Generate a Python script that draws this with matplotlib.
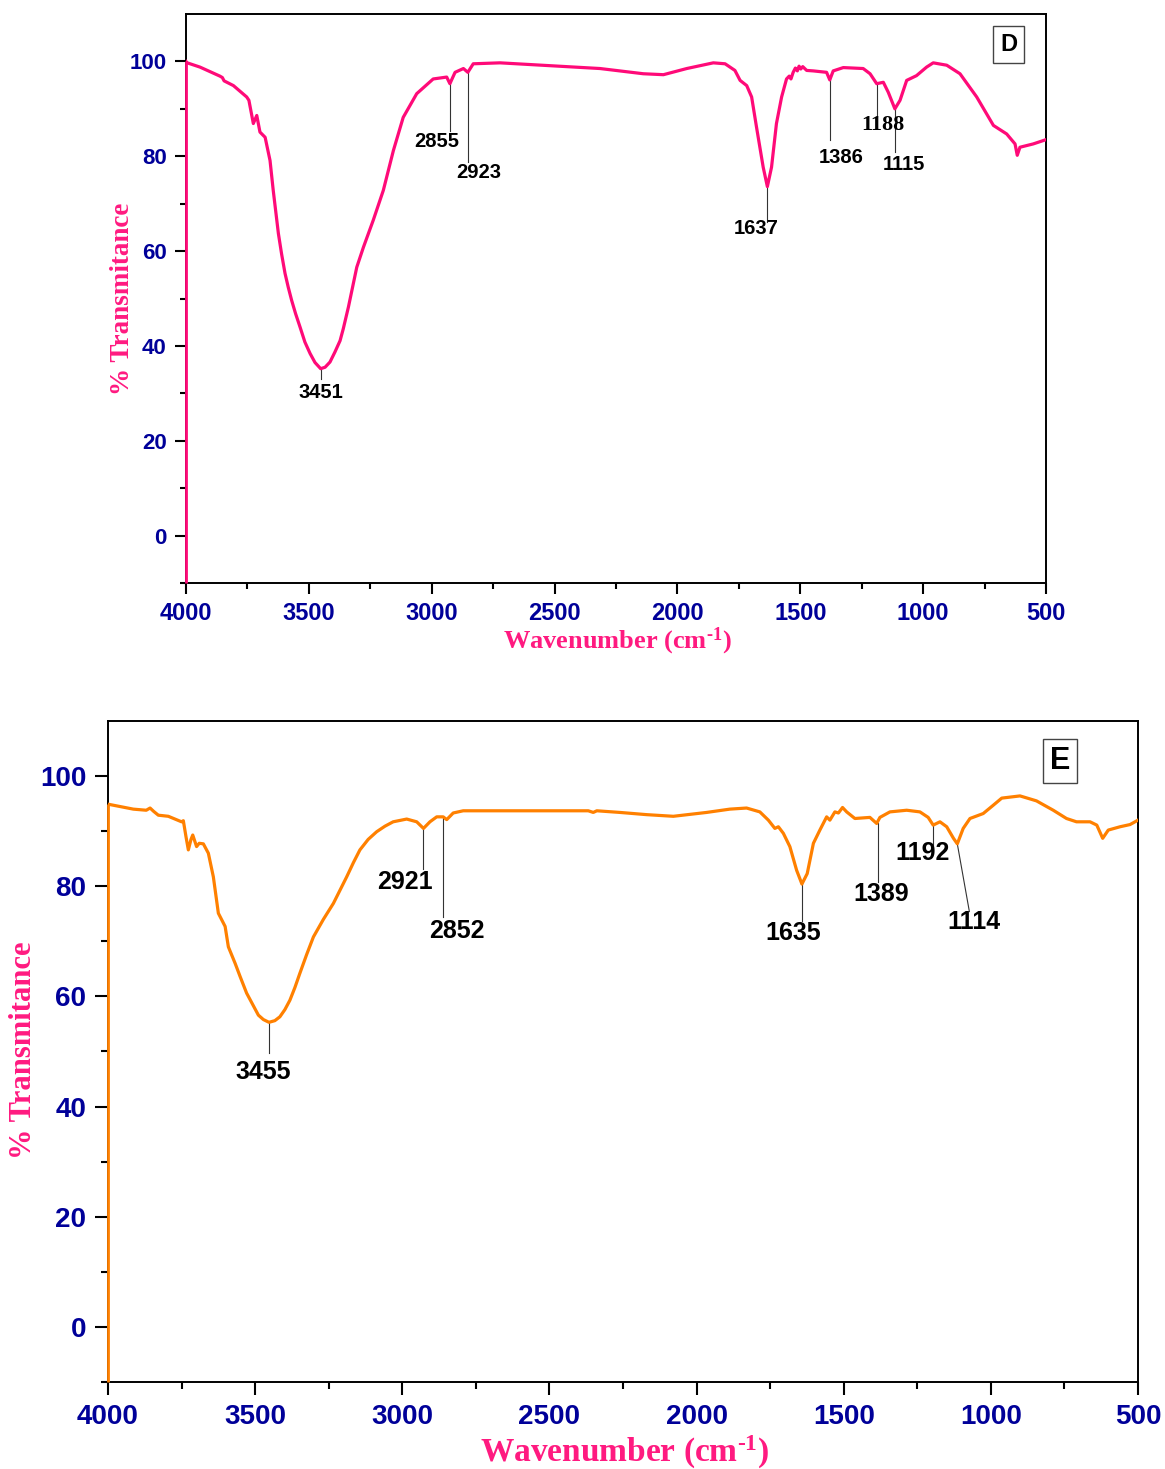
import matplotlib
matplotlib.use('Agg')
import matplotlib.pyplot as plt
from matplotlib.ticker import FixedLocator

# --- Spectrum D (pink) ---
d_wavenumber = [4000, 3995, 3943, 3862, 3852, 3845, 3807, 3753, 3744, 3726, 3712, 3699,
                3678, 3658, 3645, 3624, 3611, 3597, 3584, 3570, 3554, 3536, 3516, 3495,
                3475, 3452, 3434, 3414, 3394, 3373, 3360, 3339, 3322, 3305, 3278, 3238,
                3197, 3156, 3116, 3061, 2994, 2939, 2926, 2905, 2871, 2853, 2831, 2722,
                2315, 2139, 2057, 1962, 1854, 1806, 1766, 1745, 1718, 1698, 1678, 1651,
                1634, 1617, 1597, 1576, 1556, 1545, 1538, 1529, 1520, 1512, 1505, 1498,
                1490, 1474, 1447, 1393, 1380, 1366, 1325, 1244, 1216, 1189, 1162, 1142,
                1115, 1094, 1067, 1027, 986, 959, 904, 850, 782, 714, 660, 626, 617, 606,
                552, 500]
d_transmit = [100.0, 99.7, 98.8, 96.9, 96.6, 95.9, 94.9, 92.5, 91.8, 86.9, 88.6, 85.1,
              84.0, 79.1, 72.8, 63.7, 59.4, 55.3, 52.4, 49.6, 46.8, 44.0, 40.8, 38.4,
              36.5, 35.2, 35.5, 36.6, 38.7, 41.1, 43.6, 48.2, 52.4, 56.6, 60.8, 66.5,
              72.8, 81.2, 88.2, 93.2, 96.3, 96.7, 95.3, 97.7, 98.5, 97.7, 99.5, 99.7,
              98.5, 97.4, 97.2, 98.5, 99.7, 99.5, 98.1, 96.0, 94.9, 92.5, 86.1, 77.7,
              73.6, 77.7, 86.9, 92.5, 96.3, 96.9, 96.3, 97.7, 98.6, 98.0, 99.0, 98.4,
              98.9, 98.1, 98.0, 97.7, 96.1, 98.0, 98.7, 98.5, 97.4, 95.3, 95.6, 93.5,
              90.0, 91.8, 96.0, 97.0, 98.8, 99.7, 99.2, 97.4, 92.5, 86.5, 84.7, 82.6,
              80.2, 81.9, 82.6, 83.5]
d_peak_labels = ['3451', '2855', '2923', '1637', '1386', '1188', '1115']

# --- Spectrum E (orange) ---
e_wavenumber = [4000, 3914, 3870, 3857, 3845, 3829, 3795, 3750, 3744, 3735, 3727, 3718,
                3712, 3699, 3690, 3676, 3659, 3642, 3625, 3602, 3591, 3568, 3551, 3529,
                3508, 3489, 3472, 3453, 3433, 3416, 3399, 3382, 3365, 3348, 3325, 3302,
                3268, 3234, 3189, 3166, 3144, 3116, 3087, 3059, 3031, 2985, 2951, 2928,
                2906, 2883, 2861, 2849, 2827, 2793, 2368, 2351, 2339, 2260, 2170, 2079,
                1966, 1887, 1830, 1785, 1756, 1734, 1722, 1705, 1683, 1660, 1642, 1624,
                1603, 1581, 1558, 1547, 1530, 1518, 1504, 1490, 1462, 1411, 1388, 1377,
                1343, 1286, 1241, 1213, 1196, 1173, 1150, 1127, 1114, 1094, 1071, 1026,
                992, 963, 901, 845, 788, 743, 709, 663, 640, 620, 601, 561, 527, 500]
e_transmit = [94.9, 94.0, 93.8, 94.2, 93.6, 92.9, 92.7, 91.7, 91.9, 89.0, 86.6, 88.5,
              89.3, 87.2, 87.8, 87.7, 86.0, 81.7, 75.1, 72.7, 69.0, 66.0, 63.6, 60.6,
              58.5, 56.6, 55.8, 55.3, 55.6, 56.3, 57.6, 59.3, 61.6, 64.2, 67.6, 70.8,
              74.0, 76.9, 81.7, 84.3, 86.6, 88.5, 89.9, 90.9, 91.7, 92.2, 91.7, 90.5,
              91.7, 92.6, 92.6, 92.1, 93.3, 93.7, 93.7, 93.4, 93.7, 93.4, 93.0, 92.7,
              93.4, 94.0, 94.2, 93.5, 92.0, 90.5, 90.8, 89.6, 87.2, 82.9, 80.4, 82.3,
              87.8, 90.2, 92.6, 92.0, 93.5, 93.3, 94.3, 93.5, 92.3, 92.5, 91.4, 92.5,
              93.5, 93.8, 93.5, 92.5, 91.1, 91.7, 90.8, 88.7, 87.7, 90.5, 92.3, 93.2,
              94.7, 96.0, 96.4, 95.5, 93.8, 92.3, 91.7, 91.7, 91.1, 88.7, 90.2, 90.8,
              91.2, 92.0]
e_peak_labels = ['3455', '2921', '2852', '1635', '1389', '1192', '1114']

x_major = [4000, 3500, 3000, 2500, 2000, 1500, 1000, 500]
x_minor = [3750, 3250, 2750, 2250, 1750, 1250, 750]
y_major = [0, 20, 40, 60, 80, 100]
y_minor = [-10, 10, 30, 50, 70, 90]

# label layout: (x_top, T_top, x_bottom, T_bottom, x_text, T_text)
d_layout = [(3451, 35.2, 3451, 33.1, 3451, 30.2),
            (2926, 95.4, 2926, 85.4, 2980, 83.2),
            (2853, 97.7, 2853, 78.7, 2810, 76.6),
            (1634, 73.6, 1634, 66.2, 1681, 64.7),
            (1380, 96.2, 1380, 83.5, 1335, 79.7),
            (1189, 95.4, 1189, 88.2, 1162, 86.5),
            (1115, 90.1, 1115, 80.8, 1077, 78.2)]
e_layout = [(3453, 55.3, 3453, 49.8, 3472, 46.2),
            (2928, 90.5, 2928, 83.2, 2991, 80.8),
            (2861, 92.6, 2861, 74.5, 2814, 71.9),
            (1642, 80.4, 1642, 73.7, 1671, 71.5),
            (1384, 91.4, 1384, 80.8, 1374, 78.6),
            (1198, 91.1, 1198, 87.2, 1232, 86.0),
            (1114, 87.7, 1073, 75.4, 1056, 73.6)]

PINK_LINE = '#FF0A78'
PINK_TEXT = '#FF1A80'
ORANGE = '#FF8000'
NAVY = '#000099'

plt.rcParams.update({
    'font.family': 'Liberation Sans',
    'font.weight': 'bold',
    'mathtext.fontset': 'custom',
    'mathtext.rm': 'Liberation Serif:bold',
    'mathtext.it': 'Liberation Serif:bold',
    'mathtext.bf': 'Liberation Serif:bold',
})

W, H = 1165, 1469
fig = plt.figure(figsize=(W / 100, H / 100), dpi=100)


def make_panel(rect, wn, tr, color, labels, layout, tag, sizes, serif_labels=()):
    left, top, right, bottom = rect
    ax = fig.add_axes([left / W, 1 - bottom / H, (right - left) / W, (bottom - top) / H])
    ax.plot(wn, tr, color=color, lw=2.3, zorder=3)
    ax.vlines(wn[0], -10, tr[0], color=color, lw=2.0, zorder=4, clip_on=False)
    ax.set_xlim(4000, 500)
    ax.set_ylim(-10, 110)

    ax.xaxis.set_major_locator(FixedLocator(x_major))
    ax.xaxis.set_minor_locator(FixedLocator(x_minor))
    ax.yaxis.set_major_locator(FixedLocator(y_major))
    ax.yaxis.set_minor_locator(FixedLocator(y_minor))
    ax.tick_params(which='major', direction='out', length=sizes['tick'], width=1.5,
                   labelcolor=NAVY, pad=6)
    ax.tick_params(axis='x', which='major', labelsize=sizes['xtick'])
    ax.tick_params(axis='y', which='major', labelsize=sizes['ytick'])
    ax.tick_params(which='minor', direction='out', length=sizes['tick'] * 0.55, width=1.5)
    for s in ax.spines.values():
        s.set_linewidth(1.4)

    for lab, (x1, t1, x2, t2, xt, tt) in zip(labels, layout):
        ax.plot([x1, x2], [t1, t2], color='#333333', lw=0.8, zorder=2)
        if lab in serif_labels:
            ax.text(xt, tt, lab, ha='center', va='center', fontsize=sizes['peak'] + 1.5,
                    family='Liberation Serif', color='black')
        else:
            ax.text(xt, tt, lab, ha='center', va='center', fontsize=sizes['peak'],
                    color='black')

    ax.text(sizes['tag_xy'][0], sizes['tag_xy'][1], tag, transform=ax.transAxes,
            ha='center', va='center', fontsize=sizes['tag'], color='black',
            bbox=dict(boxstyle='square,pad=%.2f' % sizes['tag_pad'], fc='white',
                      ec='#444444', lw=1.0))

    ax.text(sizes['ylab_xy'][0], sizes['ylab_xy'][1], '% Transmitance', transform=ax.transAxes,
            rotation=90, ha='center', va='center', fontsize=sizes['ylabel'],
            family='Liberation Serif', color=PINK_TEXT)
    ax.text(sizes['xlab_xy'][0], sizes['xlab_xy'][1], r'Wavenumber (cm$^{\text{-1}}$)',
            transform=ax.transAxes, ha='center', va='center', fontsize=sizes['xlabel'],
            family='Liberation Serif', color=PINK_TEXT)
    return ax


make_panel((186, 14, 1046, 583), d_wavenumber, d_transmit, PINK_LINE, d_peak_labels, d_layout, 'D',
           dict(tick=8, xtick=17, ytick=16, peak=14.5, tag=17, tag_pad=0.3, ylabel=19.5,
                xlabel=19, tag_xy=(0.9567, 0.946), ylab_xy=(-0.0738, 0.499),
                xlab_xy=(0.501, -0.102)),
           serif_labels=('1188',))
make_panel((108, 721, 1138, 1382), e_wavenumber, e_transmit, ORANGE, e_peak_labels, e_layout, 'E',
           dict(tick=9.5, xtick=20, ytick=20, peak=18, tag=22, tag_pad=0.22, ylabel=22,
                xlabel=24, tag_xy=(0.9243, 0.9396), ylab_xy=(-0.0822, 0.5015),
                xlab_xy=(0.501, -0.106)))

fig.savefig('out.png', dpi=100, facecolor='white')
